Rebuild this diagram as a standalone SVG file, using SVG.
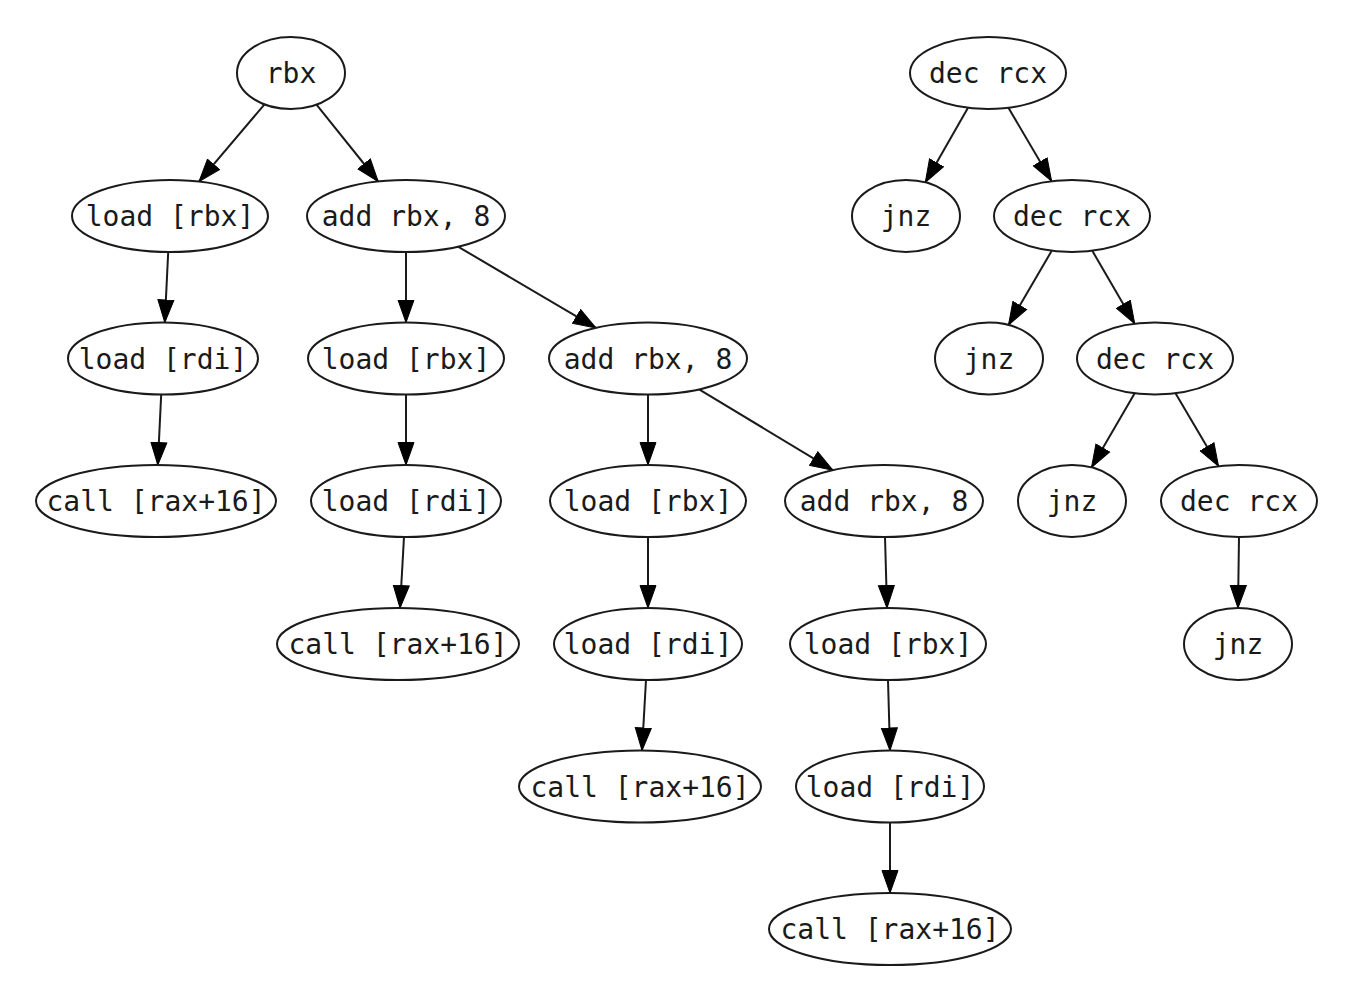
<svg xmlns="http://www.w3.org/2000/svg" width="1349" height="981" viewBox="0 0 1349 981">
<style>
.n ellipse{fill:#fff;stroke:#1a1a1a;stroke-width:2}
.n text{font-family:"DejaVu Sans Mono","Liberation Mono",monospace;font-size:28px;text-anchor:middle;fill:#1a1a1a}
#edges line{stroke:#1a1a1a;stroke-width:2;marker-end:url(#arr)}
</style>
<defs>
<marker id="arr" markerUnits="userSpaceOnUse" markerWidth="24" markerHeight="18" refX="23" refY="9" orient="auto">
<path d="M0.5,1 L23,9 L0.5,17 z" fill="#000" stroke="#000" stroke-width="1"/>
</marker>
</defs>
<rect width="1349" height="981" fill="#fff"/>
<g id="edges">
<line x1="264.5" y1="104.3" x2="199" y2="181.6"/>
<line x1="316.5" y1="104.7" x2="378.2" y2="181.5"/>
<line x1="168.2" y1="252" x2="164.8" y2="322.5"/>
<line x1="161.2" y1="394.5" x2="157.8" y2="465"/>
<line x1="406" y1="252" x2="406" y2="322.5"/>
<line x1="458" y1="246.6" x2="596" y2="327.9"/>
<line x1="406" y1="394.5" x2="406" y2="465"/>
<line x1="404" y1="537" x2="400" y2="608"/>
<line x1="648" y1="394.5" x2="648" y2="465"/>
<line x1="699.1" y1="389.3" x2="832.9" y2="470.2"/>
<line x1="648" y1="537" x2="648" y2="608"/>
<line x1="646" y1="680" x2="642" y2="750.5"/>
<line x1="885" y1="537" x2="887" y2="608"/>
<line x1="888" y1="680" x2="890" y2="750.5"/>
<line x1="890" y1="822.5" x2="890" y2="893"/>
<line x1="968" y1="107.8" x2="925.3" y2="182.4"/>
<line x1="1008.4" y1="107.7" x2="1051.6" y2="181.3"/>
<line x1="1051.7" y1="250.8" x2="1008.5" y2="324.9"/>
<line x1="1092.3" y1="250.8" x2="1134.7" y2="323.7"/>
<line x1="1134.7" y1="393.3" x2="1091.5" y2="467.4"/>
<line x1="1175.5" y1="393.3" x2="1218.5" y2="466.2"/>
<line x1="1239" y1="537" x2="1238" y2="608"/>
</g>
<g id="n1" class="n"><ellipse cx="291" cy="73" rx="54" ry="36"/><text x="291" y="83">rbx</text></g>
<g id="n2" class="n"><ellipse cx="170" cy="216" rx="98" ry="36"/><text x="170" y="226">load [rbx]</text></g>
<g id="n3" class="n"><ellipse cx="406" cy="216" rx="99" ry="36"/><text x="406" y="226">add rbx, 8</text></g>
<g id="n4" class="n"><ellipse cx="163" cy="358.5" rx="95" ry="36"/><text x="163" y="368.5">load [rdi]</text></g>
<g id="n5" class="n"><ellipse cx="156" cy="501" rx="120" ry="36"/><text x="156" y="511">call [rax+16]</text></g>
<g id="n6" class="n"><ellipse cx="406" cy="358.5" rx="98" ry="36"/><text x="406" y="368.5">load [rbx]</text></g>
<g id="n7" class="n"><ellipse cx="648" cy="358.5" rx="99" ry="36"/><text x="648" y="368.5">add rbx, 8</text></g>
<g id="n8" class="n"><ellipse cx="406" cy="501" rx="95" ry="36"/><text x="406" y="511">load [rdi]</text></g>
<g id="n9" class="n"><ellipse cx="398" cy="644" rx="121" ry="36"/><text x="398" y="654">call [rax+16]</text></g>
<g id="n10" class="n"><ellipse cx="648" cy="501" rx="98" ry="36"/><text x="648" y="511">load [rbx]</text></g>
<g id="n11" class="n"><ellipse cx="884" cy="501" rx="99" ry="36"/><text x="884" y="511">add rbx, 8</text></g>
<g id="n12" class="n"><ellipse cx="648" cy="644" rx="94" ry="36"/><text x="648" y="654">load [rdi]</text></g>
<g id="n13" class="n"><ellipse cx="640" cy="786.5" rx="121" ry="36"/><text x="640" y="796.5">call [rax+16]</text></g>
<g id="n14" class="n"><ellipse cx="888" cy="644" rx="98" ry="36"/><text x="888" y="654">load [rbx]</text></g>
<g id="n15" class="n"><ellipse cx="890" cy="786.5" rx="94" ry="36"/><text x="890" y="796.5">load [rdi]</text></g>
<g id="n16" class="n"><ellipse cx="890" cy="929" rx="121" ry="36"/><text x="890" y="939">call [rax+16]</text></g>
<g id="d1" class="n"><ellipse cx="988" cy="73" rx="78" ry="36"/><text x="988" y="83">dec rcx</text></g>
<g id="j1" class="n"><ellipse cx="906" cy="216" rx="54" ry="36"/><text x="906" y="226">jnz</text></g>
<g id="d2" class="n"><ellipse cx="1072" cy="216" rx="78" ry="36"/><text x="1072" y="226">dec rcx</text></g>
<g id="j2" class="n"><ellipse cx="989" cy="358.5" rx="54" ry="36"/><text x="989" y="368.5">jnz</text></g>
<g id="d3" class="n"><ellipse cx="1155" cy="358.5" rx="78" ry="36"/><text x="1155" y="368.5">dec rcx</text></g>
<g id="j3" class="n"><ellipse cx="1072" cy="501" rx="54" ry="36"/><text x="1072" y="511">jnz</text></g>
<g id="d4" class="n"><ellipse cx="1239" cy="501" rx="78" ry="36"/><text x="1239" y="511">dec rcx</text></g>
<g id="j4" class="n"><ellipse cx="1238" cy="644" rx="54" ry="36"/><text x="1238" y="654">jnz</text></g>
</svg>
